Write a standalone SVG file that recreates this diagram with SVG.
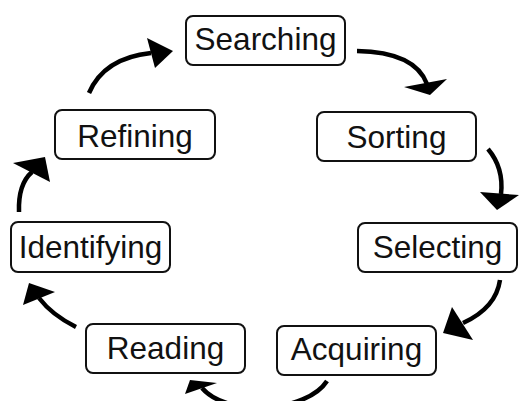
<svg xmlns="http://www.w3.org/2000/svg" width="519" height="401" viewBox="0 0 519 401">
<style>
.box{fill:#fff;stroke:#111;stroke-width:2}
.lbl{font-family:"Liberation Sans",Arial,sans-serif;font-size:31.5px;fill:#111;text-anchor:middle}
.edge{fill:none;stroke:#000;stroke-width:4.5}
.head{fill:#000}
</style>
<rect width="519" height="401" fill="#fff"/>
<g id="connectors">
<path class="edge" d="M 89 93 Q 104 58 151 53"/>
<polygon class="head" points="147,38 173,51 155,68"/>
<path class="edge" d="M 357 51 Q 415 52 427 84"/>
<polygon class="head" points="404,87 447,79 430,95"/>
<path class="edge" d="M 488 149 Q 504 168 501 194"/>
<polygon class="head" points="480,192 519,195 497,210"/>
<path class="edge" d="M 500 280 Q 496 308 463 323"/>
<polygon class="head" points="452,307 473,340 443,333"/>
<path class="edge" d="M 327 381 C 307 412 228 418 202 388"/>
<polygon class="head" points="185,394 190,380 217,383"/>
<path class="edge" d="M 76 327 Q 52 315 39 298"/>
<polygon class="head" points="55,292 23,305 29,283"/>
<path class="edge" d="M 19 212 Q 18 184 32 172"/>
<polygon class="head" points="13,163 50,182 45,157"/>
</g>
<g id="node-searching"><rect class="box" x="186" y="16" width="159" height="49" rx="7"/><text class="lbl" x="265.5" y="50">Searching</text></g>
<g id="node-sorting"><rect class="box" x="317" y="112" width="159" height="49" rx="7"/><text class="lbl" x="396.5" y="148">Sorting</text></g>
<g id="node-selecting"><rect class="box" x="358" y="223" width="159" height="49" rx="7"/><text class="lbl" x="437.5" y="257.5">Selecting</text></g>
<g id="node-acquiring"><rect class="box" x="277" y="326" width="159" height="49" rx="7"/><text class="lbl" x="356.5" y="360">Acquiring</text></g>
<g id="node-reading"><rect class="box" x="86" y="324" width="159" height="49" rx="7"/><text class="lbl" x="165.5" y="359">Reading</text></g>
<g id="node-identifying"><rect class="box" x="11" y="222" width="159" height="50" rx="7"/><text class="lbl" x="90.5" y="258">Identifying</text></g>
<g id="node-refining"><rect class="box" x="55" y="110" width="160" height="49" rx="7"/><text class="lbl" x="135" y="146.5">Refining</text></g>
</svg>
